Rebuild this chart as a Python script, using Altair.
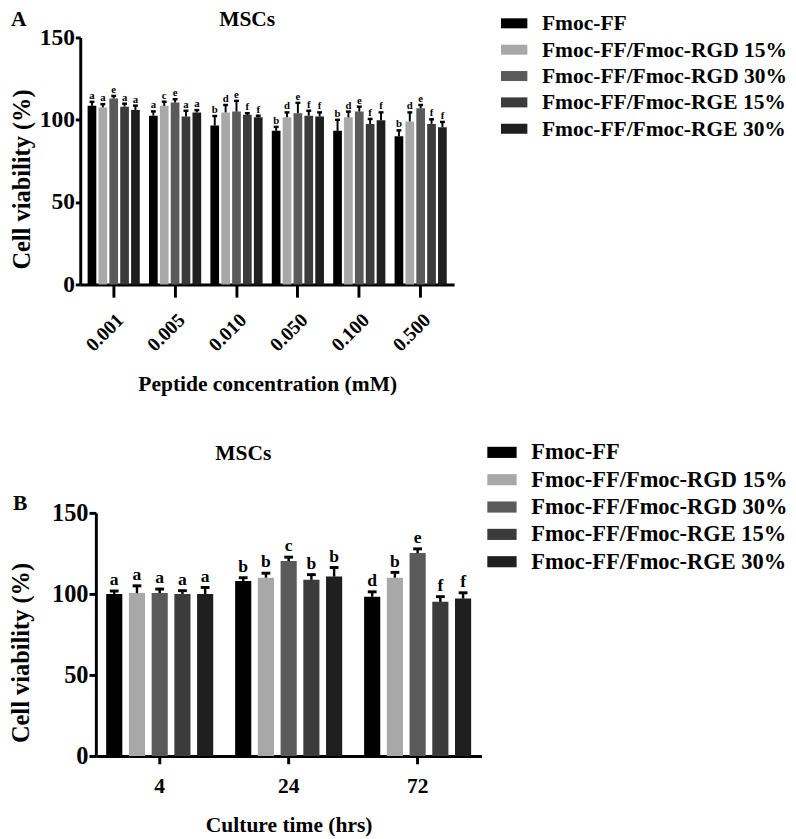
import altair as alt
import pandas as pd

FONT = "Liberation Serif"

series = ["Fmoc-FF", "Fmoc-FF/Fmoc-RGD 15%", "Fmoc-FF/Fmoc-RGD 30%",
          "Fmoc-FF/Fmoc-RGE 15%", "Fmoc-FF/Fmoc-RGE 30%"]
colors = ["#000000", "#a8a8a8", "#5a5a5a", "#3b3b3b", "#1f1f1f"]

# ---------- Panel A: peptide concentration ----------
a_conc = ["0.001", "0.005", "0.010", "0.050", "0.100", "0.500"]
a_fmocff = [108.5, 102.5, 96.5, 93.3, 93.3, 90.0]
a_rgd15 = [107.5, 108.5, 104.5, 101.5, 101.5, 99.0]
a_rgd30 = [113.0, 110.5, 105.0, 104.0, 105.0, 107.0]
a_rge15 = [108.0, 102.0, 103.0, 102.5, 97.5, 97.5]
a_rge30 = [106.0, 104.5, 101.5, 102.0, 99.8, 95.5]
a_fmocff_err = [2.4, 2.6, 5.8, 2.4, 6.7, 3.6]
a_rgd15_err = [2.0, 2.5, 4.5, 3.0, 3.5, 5.5]
a_rgd30_err = [1.5, 2.0, 6.5, 6.3, 3.0, 2.0]
a_rge15_err = [1.8, 3.5, 1.0, 3.0, 3.0, 2.8]
a_rge30_err = [2.6, 1.4, 1.0, 2.5, 4.7, 3.2]
a_fmocff_let = ["a", "a", "b", "b", "b", "b"]
a_rgd15_let = ["a", "c", "d", "d", "d", "d"]
a_rgd30_let = ["e", "e", "e", "e", "e", "e"]
a_rge15_let = ["a", "a", "f", "f", "f", "f"]
a_rge30_let = ["a", "a", "f", "f", "f", "f"]

# ---------- Panel B: culture time ----------
b_time = ["4", "24", "72"]
b_fmocff = [100.0, 108.0, 98.3]
b_rgd15 = [100.5, 110.0, 110.0]
b_rgd30 = [100.5, 120.3, 125.2]
b_rge15 = [100.0, 108.7, 95.1]
b_rge30 = [100.0, 110.7, 97.1]
b_fmocff_err = [1.8, 2.0, 3.0]
b_rgd15_err = [4.5, 2.8, 3.3]
b_rgd30_err = [2.5, 2.4, 2.6]
b_rge15_err = [2.0, 3.2, 3.2]
b_rge30_err = [4.0, 5.6, 3.6]
b_fmocff_let = ["a", "b", "d"]
b_rgd15_let = ["a", "b", "b"]
b_rgd30_let = ["a", "c", "e"]
b_rge15_let = ["a", "b", "f"]
b_rge30_let = ["a", "b", "f"]


def long_df(cats, vals, errs, lets):
    rows = []
    for si, s in enumerate(series):
        for ci, c in enumerate(cats):
            v = vals[si][ci]
            rows.append({"cat": c, "series": s, "value": v,
                         "upper": v + errs[si][ci], "letter": lets[si][ci]})
    return pd.DataFrame(rows)


df_a = long_df(a_conc,
               [a_fmocff, a_rgd15, a_rgd30, a_rge15, a_rge30],
               [a_fmocff_err, a_rgd15_err, a_rgd30_err, a_rge15_err, a_rge30_err],
               [a_fmocff_let, a_rgd15_let, a_rgd30_let, a_rge15_let, a_rge30_let])
df_b = long_df(b_time,
               [b_fmocff, b_rgd15, b_rgd30, b_rge15, b_rge30],
               [b_fmocff_err, b_rgd15_err, b_rgd30_err, b_rge15_err, b_rge30_err],
               [b_fmocff_let, b_rgd15_let, b_rgd30_let, b_rge15_let, b_rge30_let])


def panel(df, cats, cfg):
    xaxis = alt.Axis(labelAngle=cfg["label_angle"], labelFont=FONT, labelFontWeight="bold",
                     labelFontSize=cfg["xlabel_size"], labelColor="black",
                     labelPadding=cfg["xlabel_pad"],
                     titleFont=FONT, titleFontWeight="bold", titleFontSize=cfg["xtitle_size"],
                     titleColor="black", titlePadding=cfg["xtitle_pad"],
                     domainColor="black", domainWidth=3, tickColor="black", tickWidth=3,
                     tickSize=cfg["xtick"], grid=False)
    x = alt.X("cat:N", sort=cats, title=cfg["xtitle"],
              scale=alt.Scale(paddingInner=cfg["pi"], paddingOuter=cfg["po"]), axis=xaxis)
    xo = alt.XOffset("series:N", sort=series, scale=alt.Scale(paddingInner=cfg["bpi"]))
    yaxis = alt.Axis(values=[0, 50, 100, 150], labelFont=FONT, labelFontWeight="bold",
                     labelFontSize=cfg["ylabel_size"], labelColor="black", labelPadding=1,
                     titleFont=FONT, titleFontWeight="bold", titleFontSize=25,
                     titleColor="black", titleX=cfg["ytitle_x"], titleY=cfg["ytitle_y"],
                     titleBaseline="alphabetic", titleAngle=270,
                     domainColor="black", domainWidth=3, tickColor="black", tickWidth=3,
                     tickSize=cfg["ytick"], grid=False)
    y = alt.Y("value:Q", title="Cell viability (%)",
              scale=alt.Scale(domain=[0, 150], nice=False), axis=yaxis)
    legend = alt.Legend(title=None, orient="none", legendX=cfg["legx"], legendY=cfg["legy"],
                        labelFont=FONT, labelFontWeight="bold", labelFontSize=cfg["leg_size"],
                        labelColor="black", labelOffset=cfg["leg_off"],
                        symbolType="M-1,-0.38H1V0.38H-1Z", symbolSize=cfg["sym_size"],
                        symbolStrokeWidth=0, symbolOpacity=1, rowPadding=cfg["leg_row"],
                        padding=0, labelLimit=400)
    bars = alt.Chart(df).mark_bar().encode(
        x=x, xOffset=xo, y=y,
        color=alt.Color("series:N", sort=series,
                        scale=alt.Scale(domain=series, range=colors), legend=legend))
    xs = alt.X("cat:N", sort=cats)
    xos = alt.XOffset("series:N", sort=series)
    rules = alt.Chart(df).mark_rule(color="black", strokeWidth=cfg["err_w"]).encode(
        x=xs, xOffset=xos, y="value:Q", y2="upper:Q")
    caps = alt.Chart(df).mark_tick(color="black", thickness=cfg["cap_t"], size=cfg["cap_w"],
                                   orient="horizontal", opacity=1).encode(
        x=xs, xOffset=xos, y="upper:Q")
    lets = alt.Chart(df).mark_text(font=FONT, fontWeight="bold", fontSize=cfg["let_size"],
                                   baseline="alphabetic", dy=-cfg["let_dy"], color="black").encode(
        x=xs, xOffset=xos, y="upper:Q", text="letter:N")
    tag = alt.Chart(pd.DataFrame({"t": [cfg["tag"]]})).mark_text(
        font=FONT, fontWeight="bold", fontSize=22, align="left", baseline="alphabetic",
        color="black").encode(x=alt.value(cfg["tagx"]), y=alt.value(cfg["tagy"]), text="t:N")
    ttl = alt.Chart(pd.DataFrame({"t": ["MSCs"]})).mark_text(
        font=FONT, fontWeight="bold", fontSize=22, align="center", baseline="alphabetic",
        color="black").encode(x=alt.value(cfg["ttlx"]), y=alt.value(cfg["ttly"]), text="t:N")
    return alt.layer(bars, rules, caps, lets, tag, ttl).properties(width=cfg["w"], height=cfg["h"])


def spacer(w):
    return alt.Chart(pd.DataFrame({"s": [0]})).mark_point(opacity=0).encode(
        x=alt.X("s:Q", axis=None), y=alt.Y("s:Q", axis=None)).properties(width=w, height=1)


cfg_a = dict(label_angle=315, xlabel_size=20, xlabel_pad=13, xtitle="Peptide concentration (mM)",
             xtitle_size=22, xtitle_pad=20, xtick=13, pi=0.15, po=0.12, bpi=0.2,
             ylabel_size=24, ytitle_x=-52, ytitle_y=145, ytick=5,
             legx=431, legy=-28, leg_size=22, leg_off=15,
             sym_size=729, leg_row=2, err_w=2, cap_t=2.5, cap_w=5, let_size=11, let_dy=3,
             tag="A", tagx=-71, tagy=-12, ttlx=171, ttly=-12, w=383, h=253)
cfg_b = dict(label_angle=0, xlabel_size=22, xlabel_pad=12, xtitle="Culture time (hrs)",
             xtitle_size=22, xtitle_pad=19, xtick=8, pi=0.17, po=0.08, bpi=0.29,
             ylabel_size=25, ytitle_x=-69, ytitle_y=143, ytick=7,
             legx=401, legy=-77, leg_size=23, leg_off=15,
             sym_size=900, leg_row=1, err_w=2.5, cap_t=3, cap_w=9, let_size=18, let_dy=6,
             tag="B", tagx=-85, tagy=-3, ttlx=151, ttly=-54, w=395, h=249)

pa = panel(df_a, a_conc, cfg_a)
pb = panel(df_b, b_time, cfg_b)

row_a = alt.hconcat(spacer(1), pa, spacing=0).resolve_scale(
    x="independent", y="independent", color="independent")
row_b = alt.hconcat(spacer(1), pb, spacing=0).resolve_scale(
    x="independent", y="independent", color="independent")

chart = alt.vconcat(row_a, row_b, spacing=44).resolve_scale(
    color="independent", x="independent", xOffset="independent", y="independent"
).resolve_legend(color="independent").properties(
    padding={"left": -6, "right": 0, "top": -10, "bottom": 0}
).configure_view(stroke=None)

chart.save("out.html", embed_options={"renderer": "svg", "actions": False})
